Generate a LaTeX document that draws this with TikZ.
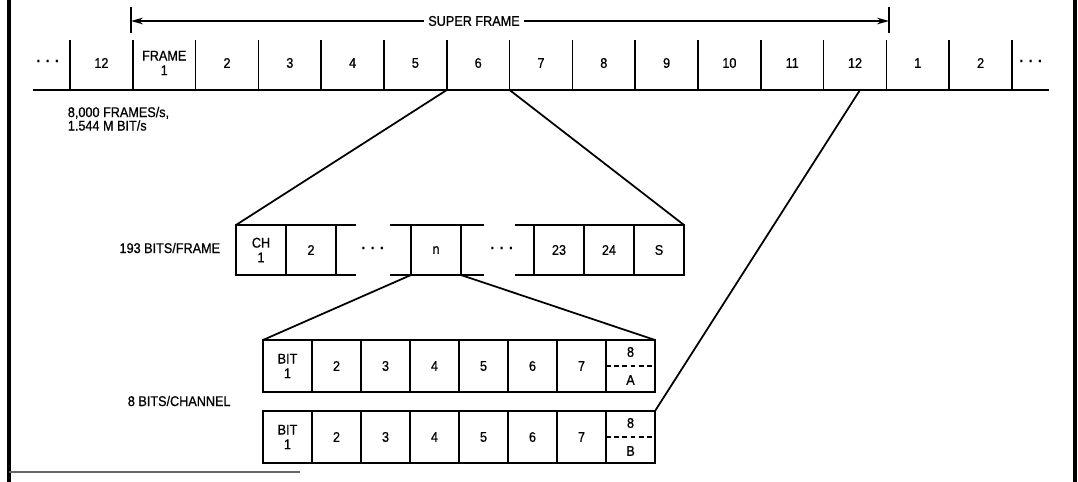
\documentclass[tikz,border=0pt]{standalone}
\usepackage{fontspec}
\setmainfont{Liberation Sans}[FakeStretch=0.9, FakeBold=0.8]
\usetikzlibrary{arrows.meta,positioning}

\begin{document}
\begin{tikzpicture}[x=0.03cm, y=-0.03cm, >={Stealth[length=3.6mm,width=2mm]}, line width=1.5pt,
  lbl/.style={font=\fontsize{12}{12.5}\selectfont, inner sep=0pt, align=center},
  cell/.style={lbl, draw, outer sep=0pt, minimum width=1.47cm, minimum height=1.56cm},
  chan/.style={cell, minimum width=1.5cm, minimum height=1.5cm},
  dots/.style={font=\bfseries\fontsize{13}{13}\selectfont, inner sep=0pt}]
\useasboundingbox (0,0) rectangle (1078,482);
% border of the figure
\draw[line width=3.4pt] (9,0) -- (9,482) (1075,0) -- (1075,482);
\draw[line width=2pt, black!60] (9,472) -- (300,472);
% frame sequence
\draw (33,90) -- (1049,90);
\foreach \k in {0,...,15} \draw (70+62.8*\k,40) -- (70+62.8*\k,90) coordinate (b\k);
\foreach \t [count=\k from 0] in {12,{FRAME\\1},2,3,4,5,6,7,8,9,10,11,12,1,2} \node[lbl] (f\k) at (101.4+62.8*\k,63) {\t};
\node[dots] (dotsL) at (48,63) {·\hspace{4pt}·\hspace{4pt}·}; \node[dots] (dotsR) at (1031,63) {·\hspace{4pt}·\hspace{4pt}·};
\coordinate (f12b) at (860,90);
% super frame
\draw (131,7) -- (131,33) (889,7) -- (889,33);
\coordinate (sfL) at (131,21); \coordinate (sfR) at (889,21);
\draw[<->] (sfL) -- (sfR);
\node[lbl, fill=white, inner xsep=4pt] (sf) at (474,21) {SUPER FRAME};
\node[lbl, font=\fontsize{12}{11.5}\selectfont, align=left, anchor=north west] (rate) at (67,106) {8,000 FRAMES/s,\\1.544 M BIT/s};
% 193 bits per frame
\node[lbl, anchor=east] (frmlbl) at (221,248) {193 BITS/FRAME};
\node[chan] (ch1) at (261,250) {CH\\1};
\node[chan, right=0pt of ch1] (ch2) {2};
\node[chan] (chn) at (436,250) {n};
\node[chan] (ch23) at (559,250) {23};
\node[chan, right=0pt of ch23] (ch24) {24};
\node[chan, right=0pt of ch24] (chS) {S};
\foreach \a/\l in {ch2.north east/20, ch2.south east/20, chn.north west/-21, chn.south west/-21, chn.north east/23, chn.south east/23, ch23.north west/-19, ch23.south west/-19} \draw (\a) -- ++(\l,0);
\node[dots] (dotsA) at (373,250) {·\hspace{4pt}·\hspace{4pt}·}; \node[dots] (dotsB) at (502,250) {·\hspace{4pt}·\hspace{4pt}·};
\draw (b6) -- (ch1.north west) (b7) -- (chS.north east);
% 8 bits per channel
\node[lbl, anchor=west] (chlbl) at (127,401) {8 BITS/CHANNEL};
\foreach \r/\y in {A/366,B/437} {
  \node[cell] (\r1) at (287.5,\y) {BIT\\1};
  \foreach \k [remember=\k as \p (initially 1)] in {2,...,8} \node[cell, right=0pt of \r\p] (\r\k) {\ifnum\k<8 \k\fi};
  \draw[line width=1.2pt, dash pattern=on 4pt off 3pt] (\r8.west) -- (\r8.east);
  \node[lbl, yshift=4.2mm] (\r8a) at (\r8) {8}; \node[lbl, yshift=-4.2mm] (\r8b) at (\r8) {\r};
}
\draw (chn.south west) -- (A1.north west) (chn.south east) -- (A8.north east) (f12b) -- (B8.north east);
\end{tikzpicture}
\end{document}
